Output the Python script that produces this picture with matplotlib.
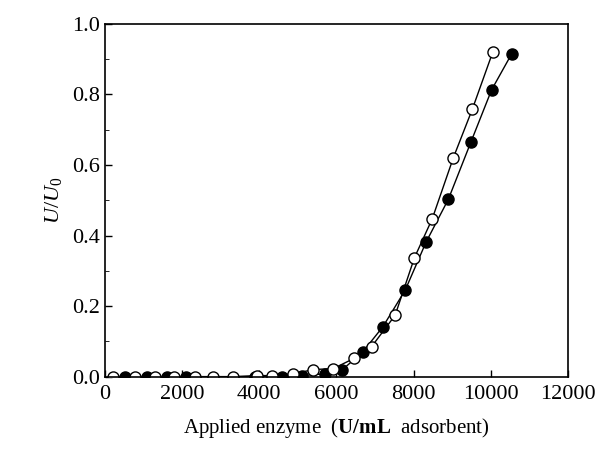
import matplotlib
matplotlib.use('Agg')
import matplotlib.pyplot as plt
from matplotlib.ticker import MultipleLocator

plt.rcParams['font.family'] = 'Liberation Serif'
plt.rcParams['mathtext.fontset'] = 'custom'
plt.rcParams['mathtext.rm'] = 'Liberation Serif'
plt.rcParams['mathtext.it'] = 'Liberation Serif:italic'
plt.rcParams['mathtext.bf'] = 'Liberation Serif:bold'

# open circles
x_open = [215, 780, 1300, 1780, 2330, 2810, 3330, 3930, 4330, 4880, 5400, 5920,
          6460, 6910, 7520, 8020, 8480, 9030, 9520, 10050]
y_open = [0.0, 0.0, 0.0, 0.0, 0.0, 0.0, 0.0, 0.003, 0.003, 0.008, 0.02, 0.023,
          0.052, 0.085, 0.174, 0.337, 0.447, 0.621, 0.758, 0.92]
# filled circles
x_fill = [520, 1080, 1600, 2100, 3900, 4600, 5100, 5700, 6135,
          6680, 7200, 7780, 8320, 8900, 9480, 10020, 10540]
y_fill = [0.0, 0.0, 0.0, 0.0, 0.0, 0.0, 0.003, 0.008, 0.018,
          0.07, 0.141, 0.245, 0.381, 0.503, 0.664, 0.813, 0.915]

fig = plt.figure(figsize=(6.03, 4.5), dpi=100)
ax = fig.add_axes([0.174, 0.163, 0.768, 0.784])

ax.plot(x_fill, y_fill, '-', color='black', lw=1.0, marker='o', ms=8,
        mfc='black', mec='black')
ax.plot(x_open, y_open, '-', color='black', lw=1.0, marker='o', ms=8,
        mfc='white', mec='black', mew=1.0)

ax.set_xlim(0, 12000)
ax.set_ylim(0, 1.0)
ax.xaxis.set_major_locator(MultipleLocator(2000))
ax.yaxis.set_major_locator(MultipleLocator(0.2))
ax.yaxis.set_minor_locator(MultipleLocator(0.1))
ax.yaxis.set_major_formatter(plt.FuncFormatter(lambda v, p: '%.1f' % v))
ax.tick_params(direction='in', labelsize=16, length=5, width=1)
ax.tick_params(which='minor', direction='in', length=3)
ax.tick_params(axis='x', pad=6)
for s in ax.spines.values():
    s.set_linewidth(1.2)

ax.set_xlabel(r'Applied enzyme  ($\mathbf{U/mL}$  adsorbent)', fontsize=15, labelpad=9)
ax.set_ylabel(r'$U/U_{\mathrm{0}}$', fontsize=16, labelpad=6)

fig.savefig('out.png', dpi=100)
